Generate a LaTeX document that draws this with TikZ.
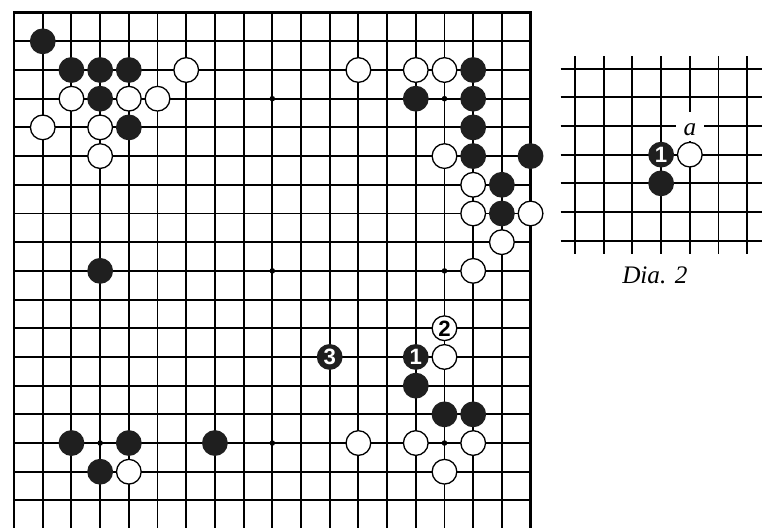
\documentclass[tikz,border=0pt]{standalone}
\usepackage{fontspec}
\setmainfont{Liberation Serif}
\setsansfont{Liberation Sans}
\usetikzlibrary{positioning}

\begin{document}
\begin{tikzpicture}[
		x=1cm,
		y=1cm,
		gridline/.style={line width=1.9pt},
		boardedge/.style={line width=2.8pt},
		hoshi/.style={circle,fill=black,inner sep=0pt,minimum size=5.5pt},
		blackstone/.style={circle,fill=black!88,inner sep=0pt,minimum size=0.9cm},
		whitestone/.style={circle,fill=white,draw=black,line width=1.3pt,inner sep=0pt,minimum size=0.86cm},
		movenum/.style={font=\sffamily\bfseries\fontsize{22}{22}\selectfont},
		diacaption/.style={font=\itshape\fontsize{25}{30}\selectfont}
	]
	
	% Page frame of the scan
	\useasboundingbox (-0.49,0.07) rectangle (26.17,18.44);
	
	% Main board: grid and edge
	\foreach \i in {1,...,17} {
		\draw[gridline] (\i,0) -- (\i,18);
		\draw[gridline] (0,\i) -- (18,\i);
	}
	\draw[boardedge] (0,0) rectangle (18,18);
	
	% Star points
	\foreach \c in {3,9,15}
	\foreach \r in {3,9,15}
	\node[hoshi] (star-\c-\r) at (\c,18-\r) {};
	
	% Black stones (column/row, counted from the top left)
	\foreach \c/\r in {1/1,2/2,3/2,4/2,3/3,4/4,
		14/3,16/2,16/3,16/4,16/5,18/5,17/6,17/7,
		3/9,14/13,15/14,16/14,2/15,4/15,7/15,3/16}
	\node[blackstone] (b-\c-\r) at (\c,18-\r) {};
	
	% White stones
	\foreach \c/\r in {6/2,2/3,4/3,5/3,1/4,3/4,3/5,
		12/2,14/2,15/2,15/5,16/6,16/7,18/7,17/8,16/9,
		15/12,12/15,14/15,16/15,15/16,4/16}
	\node[whitestone] (w-\c-\r) at (\c,18-\r) {};
	
	% Numbered moves
	\node[blackstone,movenum,text=white] (move1) at (14,6) {1};
	\node[whitestone,movenum] (move2) at (15,7) {2};
	\node[blackstone,movenum,text=white] (move3) at (11,6) {3};
	
	% Dia. 2: a corner of the board
	\begin{scope}[shift={(19.55,10.05)}]
		\foreach \i in {0,...,6} {
			\draw[gridline] (\i,-0.45) -- (\i,6.45);
			\draw[gridline] (-0.5,\i) -- (6.5,\i);
		}
		\node[fill=white,inner sep=0pt,minimum width=0.98cm,minimum height=1.02cm] (gapa) at (4,3.98) {};
		\node[diacaption,anchor=base] (pointa) at (4,3.68) {a};
		
		\node[blackstone,movenum,text=white] (dmove1) at (3,3) {1};
		\node[whitestone] (dw) at (4,3) {};
		\node[blackstone] (db) at (3,2) {};
	\end{scope}
	
	\node[diacaption,anchor=base] (dialabel) at (22.33,8.56) {Dia. 2};
	
\end{tikzpicture}
\end{document}
